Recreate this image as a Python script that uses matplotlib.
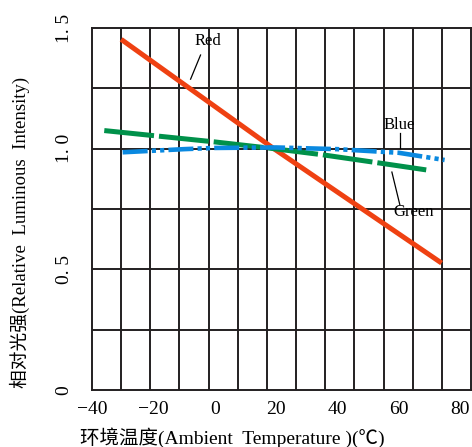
import numpy as np
import matplotlib
matplotlib.use("Agg")
import matplotlib.pyplot as plt

plt.rcParams['font.family'] = ['Liberation Serif', 'Noto Sans CJK SC', 'DejaVu Sans']
plt.rcParams['lines.scale_dashes'] = False

# data (temperature in C, relative intensity)
red_t = [-30.5, 19.3, 74.0]
red_v = [1.453, 1.000, 0.526]
green_t = [-36, 0, 18, 35, 54, 69]
green_v = [1.075, 1.028, 1.002, 0.975, 0.940, 0.912]
blue_t = [-30, -10, 0, 20, 40, 60, 75]
blue_v = [0.985, 0.998, 1.003, 1.005, 0.998, 0.983, 0.953]

xticks = [-40, -20, 0, 20, 40, 60, 80]
xtick_labels = ['\u221240', '\u221220', '0', '20', '40', '60', '80']
yticks = [0, 0.5, 1.0, 1.5]
ytick_labels = ['0', '0. 5', '1. 0', '1. 5']

fig = plt.figure(figsize=(4.72, 4.47), dpi=100)
ax = fig.add_axes([92/472, 57/447, 379/472, 362/447])

xmin, xmax = -40, 83.6
ax.set_xlim(xmin, xmax)
ax.set_ylim(0, 1.5)

ax.set_xticks(xticks)
ax.set_xticklabels(xtick_labels, fontsize=14)
ax.set_yticks(yticks)
ax.set_yticklabels(ytick_labels, fontsize=14, rotation=90, va='center')
ax.tick_params(which='both', length=0)
ax.tick_params(axis='x', pad=8)
ax.tick_params(axis='y', pad=14)

# grid: 13 columns, 6 rows
grid_col = '#231f20'
for gx in np.linspace(xmin, xmax, 14)[1:-1]:
    ax.axvline(gx, color=grid_col, lw=1.4, zorder=1)
for gy in np.linspace(0, 1.5, 7)[1:-1]:
    ax.axhline(gy, color=grid_col, lw=1.4, zorder=1)
for s in ax.spines.values():
    s.set_color(grid_col)
    s.set_linewidth(1.4)

ax.plot(red_t, red_v, color='#ef4112', lw=3.6, solid_capstyle='butt', zorder=3)
ax.plot(green_t, green_v, color='#00914a', lw=3.6, dashes=(36, 3.6),
        dash_capstyle='butt', zorder=3)
ax.plot(blue_t, blue_v, color='#0a89e0', lw=3.3,
        dashes=(18, 3, 3, 3, 3, 3), dash_capstyle='butt', zorder=3)

ax.text(-2.2, 1.446, 'Red', fontsize=12, ha='center', va='center')
ax.plot([-4.6, -7.85], [1.388, 1.288], color='black', lw=0.9)
ax.text(60.1, 1.098, 'Blue', fontsize=12, ha='center', va='center')
ax.plot([60.4, 60.4], [1.065, 1.003], color='black', lw=0.9)
ax.text(65.0, 0.738, 'Green', fontsize=12, ha='center', va='center')
ax.plot([57.8, 60.4], [0.903, 0.767], color='black', lw=0.9)

fig.text(232/472, 1 - 438/447, '环境温度(Ambient  Temperature )(℃)', fontsize=14,
         ha='center', va='center')
fig.text(20/472, 1 - 232/447, '相对光强(Relative  Luminous  Intensity)', fontsize=13.5,
         ha='center', va='center', rotation=90)

fig.savefig('out.png', dpi=100)
